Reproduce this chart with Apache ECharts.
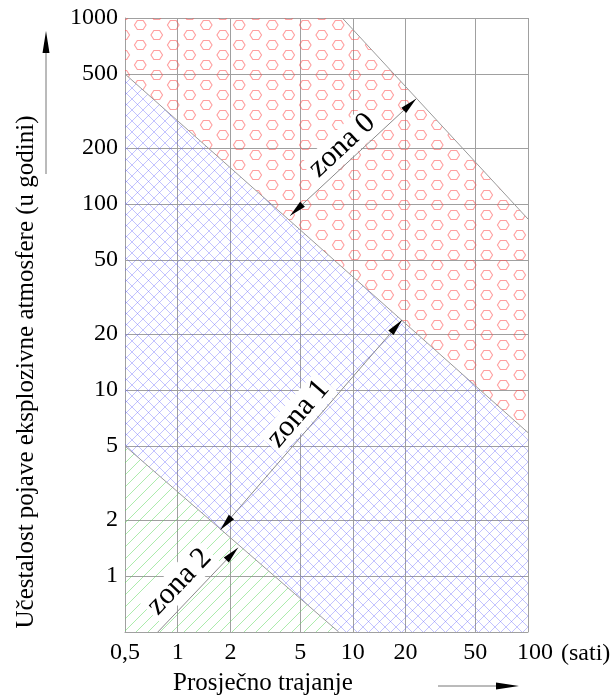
<!DOCTYPE html>
<html><head><meta charset="utf-8">
<script src="https://cdn.jsdelivr.net/npm/echarts@6/dist/echarts.min.js"></script>
<style>html,body{margin:0;padding:0;background:#fff}#c{width:614px;height:697px}</style>
</head><body><div id="c"></div>
<script>
// ---- data ----
const xTicks = [0.5, 1, 2, 5, 10, 20, 50, 100];
const yTicks = [1, 2, 5, 10, 20, 50, 100, 200, 500, 1000];
const xRange = [0.5, 100];
const yRange = [0.5, 1000];
// zone boundary lines, [x (sati), y (u godini)]
const boundaryZone0Top = [[8.7, 1000], [100, 83]];
const boundaryZone01 = [[0.5, 500], [100, 5.9]];
const boundaryZone12 = [[0.5, 5], [8.3, 0.5]];
// dimension lines [x1, y1, x2, y2]
const zoneNames = ['zona 0', 'zona 1', 'zona 2'];
const dimLines = [
  [4.38, 86.4, 23.0, 368],
  [1.75, 1.77, 19.1, 23.8],
  [0.77, 0.5, 2.21, 1.42]
];
const xTitle = 'Prosječno trajanje';
const yTitle = 'Učestalost pojave eksplozivne atmosfere (u godini)';
const xUnit = '(sati)';

// ---- style ----
const FONT = '"Liberation Serif", "Times New Roman", serif';
const dimArrows = [[true, true], [true, true], [false, true]];
const dimLabelT = [0.5, 0.5, 0.44];
const dimLabelOff = [16, 17, 19];

function hexPattern() {
  const c = document.createElement('canvas'); c.width = 33; c.height = 20;
  const g = c.getContext('2d'); g.strokeStyle = 'rgba(255,80,80,0.55)'; g.lineWidth = 1.1;
  function hex(cx, cy, r) {
    g.beginPath();
    for (let i = 0; i < 6; i++) {
      const a = Math.PI / 3 * i;
      const px = cx + r * Math.cos(a), py = cy + r * Math.sin(a) * 0.9;
      i ? g.lineTo(px, py) : g.moveTo(px, py);
    }
    g.closePath(); g.stroke();
  }
  hex(8.25, 5, 5.8); hex(24.75, 15, 5.8);
  return c;
}
function crossPattern() {
  const s = 11;
  const c = document.createElement('canvas'); c.width = s; c.height = s;
  const g = c.getContext('2d'); g.strokeStyle = 'rgba(90,90,255,0.36)'; g.lineWidth = 1;
  g.beginPath();
  g.moveTo(-1, -1); g.lineTo(s + 1, s + 1);
  g.moveTo(-1, s + 1); g.lineTo(s + 1, -1);
  g.stroke();
  return c;
}

const zone0Poly = [[xRange[0], yRange[1]], boundaryZone0Top[0], boundaryZone0Top[1], boundaryZone01[1], boundaryZone01[0]];
const zone1Poly = [boundaryZone01[0], boundaryZone01[1], [xRange[1], yRange[0]], boundaryZone12[1], boundaryZone12[0]];
const zone2Poly = [boundaryZone12[0], boundaryZone12[1], [xRange[0], yRange[0]]];

function zoneSeries(poly, pattern) {
  return {
    type: 'custom', silent: true, z: 1, data: [[1, 1]],
    renderItem: (params, api) => ({
      type: 'polygon',
      shape: { points: poly.map(p => api.coord(p)) },
      style: { fill: { image: pattern, repeat: 'repeat' }, stroke: null }
    })
  };
}
// single-direction hatch ("/") clipped to a convex polygon
function cross2(ax, ay, bx, by) { return ax * by - ay * bx; }
function hatchSeries(poly, step, color) {
  return {
    type: 'custom', silent: true, z: 1, data: [[1, 1]],
    renderItem: (params, api) => {
      const P = poly.map(p => api.coord(p));
      const dx = 1, dy = -1;
      let kMin = Infinity, kMax = -Infinity;
      P.forEach(p => { kMin = Math.min(kMin, p[0] + p[1]); kMax = Math.max(kMax, p[0] + p[1]); });
      const children = [];
      for (let k = Math.ceil(kMin / step) * step; k <= kMax; k += step) {
        const p0x = k, p0y = 0;
        const ts = [];
        for (let i = 0; i < P.length; i++) {
          const a = P[i], b = P[(i + 1) % P.length];
          const ex = b[0] - a[0], ey = b[1] - a[1];
          const den = cross2(dx, dy, ex, ey);
          if (Math.abs(den) < 1e-9) continue;
          const wx = a[0] - p0x, wy = a[1] - p0y;
          const t = cross2(wx, wy, ex, ey) / den;
          const s = cross2(wx, wy, dx, dy) / den;
          if (s >= -1e-9 && s <= 1 + 1e-9) ts.push(t);
        }
        if (ts.length < 2) continue;
        const t0 = Math.min(...ts), t1 = Math.max(...ts);
        if (t1 - t0 < 0.5) continue;
        children.push({
          type: 'line',
          shape: { x1: p0x + dx * t0, y1: p0y + dy * t0, x2: p0x + dx * t1, y2: p0y + dy * t1 },
          style: { stroke: color, lineWidth: 1 }
        });
      }
      return { type: 'group', children };
    }
  };
}
function boundarySeries(pts) {
  return {
    type: 'line', data: pts, symbol: 'none', silent: true, z: 3,
    lineStyle: { color: '#9a9a9a', width: 1 }
  };
}

const chart = echarts.init(document.getElementById('c'));
chart.setOption({
  animation: false,
  backgroundColor: '#fff',
  grid: { left: 125, right: 86, top: 18, bottom: 65, containLabel: false, outerBoundsMode: 'none' },
  xAxis: {
    type: 'log', logBase: 10, min: xRange[0], max: xRange[1],
    name: xUnit, nameLocation: 'end', nameGap: 33,
    nameTextStyle: { color: '#000', fontSize: 24, fontFamily: FONT, align: 'left', verticalAlign: 'top', padding: [10, 0, 0, 0] },
    axisLine: { show: true, lineStyle: { color: '#a0a0a0', width: 1 } },
    axisTick: { show: false, customValues: xTicks },
    splitLine: { show: true, lineStyle: { color: '#a0a0a0', width: 1 } },
    axisLabel: {
      customValues: xTicks, margin: 9, color: '#000', fontSize: 24, fontFamily: FONT,
      hideOverlap: false,
      formatter: v => (Math.abs(v - 100) < 1e-6 ? '{r|100}' : String(v).replace('.', ',')),
      rich: { r: { padding: [0, 0, 0, 14], fontSize: 24, fontFamily: FONT, color: '#000' } }
    }
  },
  yAxis: {
    type: 'log', logBase: 10, min: yRange[0], max: yRange[1],
    axisLine: { show: true, lineStyle: { color: '#a0a0a0', width: 1 } },
    axisTick: { show: false, customValues: yTicks },
    splitLine: { show: true, lineStyle: { color: '#a0a0a0', width: 1 } },
    axisLabel: { customValues: yTicks, margin: 7, color: '#000', fontSize: 24, fontFamily: FONT, formatter: v => String(Math.round(v)) }
  },
  graphic: [
    { type: 'text', x: 263, y: 683, style: { text: xTitle, fill: '#000', font: '25px ' + FONT, align: 'center', verticalAlign: 'middle' } },
    { type: 'text', x: 26, y: 372, rotation: Math.PI / 2, style: { text: yTitle, fill: '#000', font: '25px ' + FONT, align: 'center', verticalAlign: 'middle' } },
    { type: 'line', shape: { x1: 46, y1: 174, x2: 46, y2: 45 }, style: { stroke: '#777', lineWidth: 1 } },
    { type: 'polygon', shape: { points: [[46, 31], [42.5, 53], [49.5, 53]] }, style: { fill: '#000' } },
    { type: 'line', shape: { x1: 438, y1: 686, x2: 500, y2: 686 }, style: { stroke: '#777', lineWidth: 1 } },
    { type: 'polygon', shape: { points: [[519, 686], [496, 682.5], [496, 689.5]] }, style: { fill: '#000' } }
  ],
  series: [
    zoneSeries(zone0Poly, hexPattern()),
    zoneSeries(zone1Poly, crossPattern()),
    hatchSeries(zone2Poly, 12, 'rgba(90,215,90,0.5)'),
    boundarySeries(boundaryZone0Top),
    boundarySeries(boundaryZone01),
    boundarySeries(boundaryZone12),
    {
      type: 'custom', silent: true, z: 5, data: dimLines,
      encode: { x: 0, y: 1 },
      renderItem: (params, api) => {
        const i = params.dataIndex;
        const p1 = api.coord([api.value(0), api.value(1)]);
        const p2 = api.coord([api.value(2), api.value(3)]);
        const dx = p2[0] - p1[0], dy = p2[1] - p1[1];
        const len = Math.sqrt(dx * dx + dy * dy);
        const ux = dx / len, uy = dy / len;
        const nx = uy, ny = -ux;
        const L = 17, W = 3.5;
        const children = [{
          type: 'line', shape: { x1: p1[0], y1: p1[1], x2: p2[0], y2: p2[1] },
          style: { stroke: '#8a8a8a', lineWidth: 1 }
        }];
        function head(P, sx, sy) {
          const bx = P[0] - sx * L, by = P[1] - sy * L;
          children.push({
            type: 'polygon',
            shape: { points: [[P[0], P[1]], [bx + nx * W, by + ny * W], [bx - nx * W, by - ny * W]] },
            style: { fill: '#000' }
          });
        }
        if (dimArrows[i][0]) head(p1, -ux, -uy);
        if (dimArrows[i][1]) head(p2, ux, uy);
        const t = dimLabelT[i], off = dimLabelOff[i];
        children.push({
          type: 'text',
          x: p1[0] + ux * len * t + nx * off,
          y: p1[1] + uy * len * t + ny * off,
          rotation: Math.atan2(-dy, dx),
          style: {
            text: zoneNames[i], fill: '#000', font: '30px ' + FONT,
            align: 'center', verticalAlign: 'middle',
            backgroundColor: '#fff', padding: [0, 3]
          }
        });
        return { type: 'group', children };
      }
    }
  ]
});
</script></body></html>
